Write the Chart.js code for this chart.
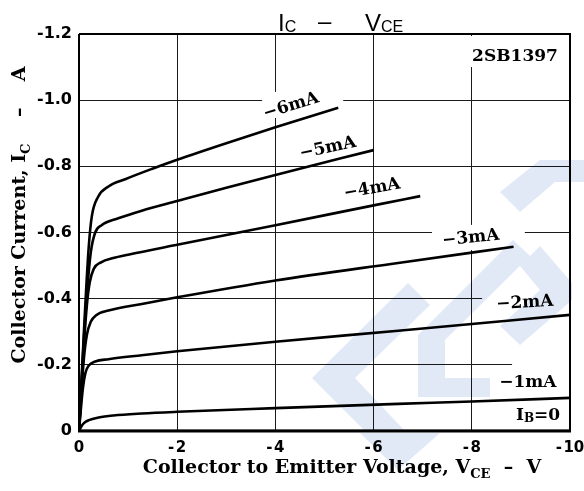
<!DOCTYPE html>
<html>
<head>
<meta charset="utf-8">
<script src="https://cdn.jsdelivr.net/npm/chart.js@4.4.1/dist/chart.umd.min.js"></script>
<style>
  html, body { margin: 0; padding: 0; background: #fff; }
  #wrap { width: 584px; height: 491px; }
</style>
</head>
<body>
<div id="wrap"><canvas id="ic-vce" width="584" height="491"></canvas></div>
<script>
// 2SB1397  IC - VCE
const xTickValues = [0, -2, -4, -6, -8, -10];
const yTickValues = [0, -0.2, -0.4, -0.6, -0.8, -1.0, -1.2];

const vce6mA = [0, -0.05, -0.1, -0.15, -0.2, -0.26, -0.39, -0.6, -0.94, -1.48, -2, -3, -4, -5.28];
const ic6mA  = [0, -0.15, -0.3, -0.44, -0.56, -0.648, -0.708, -0.739, -0.761, -0.792, -0.82, -0.87, -0.918, -0.977];

const vce5mA = [0, -0.05, -0.1, -0.17, -0.24, -0.33, -0.46, -0.8, -1.28, -2, -3, -4, -6];
const ic5mA  = [0, -0.14, -0.28, -0.43, -0.54, -0.6, -0.622, -0.643, -0.666, -0.695, -0.735, -0.774, -0.849];

const vce4mA = [0, -0.05, -0.1, -0.16, -0.22, -0.3, -0.45, -0.7, -1, -2, -4, -6, -6.95];
const ic4mA  = [0, -0.13, -0.26, -0.38, -0.45, -0.49, -0.51, -0.523, -0.533, -0.563, -0.622, -0.682, -0.71];

const vce3mA = [0, -0.05, -0.1, -0.16, -0.24, -0.35, -0.6, -1.28, -2, -4, -6.5, -8.85];
const ic3mA  = [0, -0.12, -0.22, -0.29, -0.33, -0.35, -0.364, -0.384, -0.404, -0.455, -0.508, -0.557];

const vce2mA = [0, -0.04, -0.08, -0.13, -0.19, -0.33, -0.6, -1.28, -2, -4, -6.5, -10];
const ic2mA  = [0, -0.07, -0.13, -0.175, -0.196, -0.21, -0.217, -0.229, -0.241, -0.27, -0.303, -0.351];

const vce1mA = [0, -0.04, -0.1, -0.2, -0.4, -0.7, -1.28, -2, -4, -6.5, -8, -10];
const ic1mA  = [0, -0.012, -0.024, -0.033, -0.041, -0.047, -0.053, -0.058, -0.069, -0.082, -0.089, -0.1];

const vce0mA = [0, -10];
const ic0mA  = [0, 0];

const curveNames = ['−6mA', '−5mA', '−4mA', '−3mA', '−2mA', '−1mA', 'IB=0'];

function toPoints(vs, is) {
  return vs.map((v, i) => ({ x: v, y: is[i] }));
}

const curves = [
  [vce6mA, ic6mA], [vce5mA, ic5mA], [vce4mA, ic4mA], [vce3mA, ic3mA],
  [vce2mA, ic2mA], [vce1mA, ic1mA], [vce0mA, ic0mA]
];

// where each curve name sits (V, A) and its slant
const curveTags = [
  { v: -4.32, i: -0.982, rot: -17 },
  { v: -5.07, i: -0.855, rot: -12 },
  { v: -5.97, i: -0.732, rot: -10 },
  { v: -7.98, i: -0.583, rot: -6 },
  { v: -9.08, i: -0.387, rot: -3 },
  { v: -9.14, i: -0.145, rot: 0 },
  { v: -9.35, i: -0.048, rot: 0 }
];

// white patches where the printed grid is broken by the labels
const gridGaps = [
  [-3.73, -0.946, -5.38, -1.025],
  [-7.19, -0.547, -9.08, -0.623],
  [-8.21, -0.357, -10.1, -0.42],
  [-8.82, -0.118, -10.1, -0.221],
  [-7.86, -1.10, -9.9, -1.194]
];

const SERIF = '"DejaVu Serif", serif';
const SANS = '"Liberation Sans", Arial, sans-serif';

// text runs drawn one after another, subscripts dropped a little
function runs(ctx, parts) {
  let w = 0;
  parts.forEach(p => { ctx.font = p.font; w += ctx.measureText(p.t).width; });
  return w;
}
function drawRuns(ctx, parts, x, y) {
  parts.forEach(p => {
    ctx.font = p.font;
    ctx.fillText(p.t, x, y + (p.dy || 0));
    x += ctx.measureText(p.t).width;
  });
}

const sheetPlugin = {
  id: 'sheet',
  beforeDatasetsDraw(chart) {
    const { ctx, scales: { x, y } } = chart;
    ctx.save();
    ctx.fillStyle = '#fff';
    gridGaps.forEach(g => {
      const x0 = x.getPixelForValue(g[0]), y0 = y.getPixelForValue(g[1]);
      const x1 = x.getPixelForValue(g[2]), y1 = y.getPixelForValue(g[3]);
      ctx.fillRect(Math.min(x0, x1), Math.min(y0, y1), Math.abs(x1 - x0), Math.abs(y1 - y0));
    });
    ctx.restore();

    // faint distributor watermark
    ctx.save();
    ctx.globalCompositeOperation = 'multiply';
    ctx.fillStyle = '#e1e9f7';
    const shapes = [
      [[408, 283], [312, 378], [365, 431], [405, 431], [355, 378], [430, 305]],
      [[513, 240], [418, 335], [418, 397], [490, 397], [490, 378], [445, 378], [445, 340], [530, 256]],
      [[540, 246], [572, 283], [572, 300], [520, 345], [500, 326], [540, 290], [520, 266]],
      [[500, 192], [540, 160], [584, 160], [584, 182], [555, 182], [520, 212]],
      [[360, 433], [440, 433], [398, 470]]
    ];
    shapes.forEach(s => {
      ctx.beginPath();
      s.forEach((p, k) => k ? ctx.lineTo(p[0], p[1]) : ctx.moveTo(p[0], p[1]));
      ctx.closePath();
      ctx.fill();
    });
    ctx.restore();
  },
  afterDatasetsDraw(chart) {
    const { ctx, chartArea: a, scales: { x, y } } = chart;
    ctx.save();
    ctx.strokeStyle = '#000';
    ctx.lineWidth = 2;
    ctx.beginPath();
    ctx.moveTo(a.left, a.top); ctx.lineTo(a.right, a.top); ctx.lineTo(a.right, a.bottom);
    ctx.moveTo(a.left, a.top); ctx.lineTo(a.left, a.bottom);
    ctx.stroke();
    ctx.lineWidth = 3;
    ctx.beginPath();
    ctx.moveTo(a.left - 1, a.bottom); ctx.lineTo(a.right + 1, a.bottom);
    ctx.stroke();

    ctx.fillStyle = '#000';
    ctx.textBaseline = 'middle';
    ctx.textAlign = 'center';
    const tagFont = 'bold 17px ' + SERIF;
    curveTags.forEach((t, k) => {
      const px = x.getPixelForValue(t.v), py = y.getPixelForValue(t.i);
      ctx.save();
      ctx.translate(px, py);
      ctx.rotate(t.rot * Math.PI / 180);
      if (k === curveNames.length - 1) {
        const parts = [
          { t: 'I', font: tagFont },
          { t: 'B', font: 'bold 12px ' + SERIF, dy: 4 },
          { t: '=0', font: tagFont }
        ];
        ctx.textAlign = 'left';
        drawRuns(ctx, parts, -runs(ctx, parts) / 2, 0);
        ctx.textAlign = 'center';
      } else {
        ctx.font = tagFont;
        ctx.fillText(curveNames[k], 0, 0);
      }
      ctx.restore();
    });

    ctx.font = 'bold 17px ' + SERIF;
    ctx.fillText('2SB1397', x.getPixelForValue(-8.88), y.getPixelForValue(-1.131));

    // title IC - VCE
    ctx.textAlign = 'left';
    ctx.textBaseline = 'alphabetic';
    const big = '24px ' + SANS, small = '16px ' + SANS;
    drawRuns(ctx, [{ t: 'I', font: big }, { t: 'C', font: small, dy: 1 }], 278, 31);
    ctx.font = big;
    ctx.fillText('–', 318, 29);
    drawRuns(ctx, [{ t: 'V', font: big }, { t: 'CE', font: small, dy: 1 }], 365, 31);

    // x axis title
    const xf = 'bold 19px ' + SERIF, xs = 'bold 13px ' + SERIF;
    const xParts = [
      { t: 'Collector to Emitter Voltage, V', font: xf },
      { t: 'CE', font: xs, dy: 5 },
      { t: '  –  V', font: xf }
    ];
    drawRuns(ctx, xParts, 342 - runs(ctx, xParts) / 2, 473);

    // y axis title
    const yf = 'bold 19px ' + SERIF, ys = 'bold 13px ' + SERIF;
    const yParts = [
      { t: 'Collector Current, I', font: yf },
      { t: 'C', font: ys, dy: 5 },
      { t: '    –    A', font: yf }
    ];
    ctx.translate(25, 215);
    ctx.rotate(-Math.PI / 2);
    drawRuns(ctx, yParts, -runs(ctx, yParts) / 2, 0);
    ctx.restore();
  }
};

const yTickFont = { family: '"DejaVu Sans", sans-serif', size: 16, weight: 'bold' };
const xTickFont = { family: '"DejaVu Sans", sans-serif', size: 15, weight: 'bold' };

new Chart(document.getElementById('ic-vce'), {
  type: 'line',
  data: {
    datasets: curves.map((c, k) => ({
      label: curveNames[k],
      data: toPoints(c[0], c[1]),
      borderColor: '#000',
      borderWidth: 2.6,
      pointRadius: 0,
      fill: false,
      cubicInterpolationMode: 'monotone'
    }))
  },
  options: {
    responsive: false,
    animation: false,
    devicePixelRatio: 1,
    layout: { padding: { top: 34, right: 14, left: 0, bottom: 0 } },
    plugins: { legend: { display: false }, tooltip: { enabled: false } },
    scales: {
      x: {
        type: 'linear',
        min: -10, max: 0,
        reverse: true,
        afterBuildTicks: s => { s.ticks = xTickValues.map(v => ({ value: v })); },
        afterFit: s => { s.height = 60; s.paddingLeft = 0; s.paddingRight = 0; },
        grid: { color: '#1a1a1a', lineWidth: 1, drawTicks: false },
        border: { display: false },
        ticks: {
          color: '#000', font: xTickFont, padding: 8, maxRotation: 0,
          callback: v => v === 0 ? '0' : '-\u200A' + Math.abs(v)
        }
      },
      y: {
        type: 'linear',
        min: -1.2, max: 0,
        reverse: true,
        afterBuildTicks: s => { s.ticks = yTickValues.map(v => ({ value: v })); },
        afterFit: s => { s.width = 79; s.paddingTop = 0; s.paddingBottom = 0; },
        grid: { color: '#1a1a1a', lineWidth: 1, drawTicks: false },
        border: { display: false },
        ticks: {
          color: '#000', font: yTickFont, padding: 7,
          callback: v => v === 0 ? '0' : '-' + Math.abs(v).toFixed(1)
        }
      }
    }
  },
  plugins: [sheetPlugin]
});
</script>
</body>
</html>
